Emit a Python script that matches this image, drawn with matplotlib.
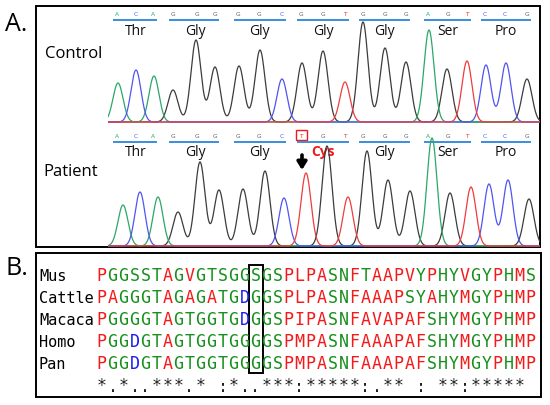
import numpy as np
import matplotlib
matplotlib.use("Agg")
import matplotlib.pyplot as plt
from matplotlib.patches import Rectangle

W, H = 550, 405

# ---- panel A: sequencing traces ----
bases_ctrl = "ACAGGGGGCGGTGGGAGTCCG"
bases_pat = "ACAGGGGGCTGTGGGAGTCCG"
# base-call positions (scan units, shared by both reads)
call_pos = [117, 136, 153, 173, 197, 215, 238, 259, 282, 301, 323,
            345, 363, 385, 406, 428, 448, 467, 485, 505, 527]
# peak positions / heights
ctrl_peak_pos = [118, 136, 154, 173, 196, 215, 239, 260, 282, 302, 323,
                 345, 363, 385, 406, 429, 447, 467, 486, 506, 527]
ctrl_peak_h = [39, 52, 46, 32, 82, 55, 56, 72, 43, 59, 71,
               40, 100, 74, 60, 92, 53, 61, 57, 59, 43]
pat_peak_pos = [123, 140, 158, 178, 200, 219, 243, 265, 284, 306, 327,
                348, 367, 388, 410, 432, 450, 471, 489, 508, 529]
pat_peak_h = [41, 54, 49, 34, 84, 56, 57, 75, 48, 73, 100,
              49, 95, 66, 55, 108, 53, 59, 62, 66, 47]
codons_ctrl = ["Thr", "Gly", "Gly", "Gly", "Gly", "Ser", "Pro"]
codons_pat = ["Thr", "Gly", "Gly", "Cys", "Gly", "Ser", "Pro"]

# ---- panel B: alignment ----
species = ["Mus", "Cattle", "Macaca", "Homo", "Pan"]
seqs = [
    "PGGSSTAGVGTSGGSGSPLPASNFTAAPVYPHYVGYPHMS",
    "PAGGGTAGAGATGDGGSPLPASNFAAAPSYAHYMGYPHMP",
    "PGGGGTAGTGGTGDGGSPIPASNFAVAPAFSHYMGYPHMP",
    "PGGDGTAGTGGTGGGGSPMPASNFAAAPAFSHYMGYPHMP",
    "PGGDGTAGTGGTGGGGSPMPASNFAAAPAFSHYMGYPHMP",
]
consensus = "*.*..***.* :*..***:*****:.** : **:***** "
boxed_col = 14

trace_colors = {"A": "#2aa866", "C": "#4f55f0", "G": "#3c3c3c", "T": "#f03c3c"}
call_colors = {"A": "#1fae5e", "C": "#4a60f5", "G": "#606060", "T": "#e33030"}
clustal = {}
for aa in "AVFPMILW":
    clustal[aa] = "#f41a1a"
for aa in "DE":
    clustal[aa] = "#1c1cf0"
for aa in "RK":
    clustal[aa] = "#d01cd0"
for aa in "STYHCNGQ":
    clustal[aa] = "#16901c"

LABEL_FONT = ["Open Sans", "DejaVu Sans"]
MONO = "DejaVu Sans Mono"

fig = plt.figure(figsize=(W / 100, H / 100), dpi=100)
page = fig.add_axes([0, 0, 1, 1])
page.set_xlim(0, W)
page.set_ylim(H, 0)
page.axis("off")


def px_axes(x0, y0, x1, y1):
    a = fig.add_axes([x0 / W, 1 - y1 / H, (x1 - x0) / W, (y1 - y0) / H])
    a.set_xlim(x0, x1)
    a.set_ylim(-1, y1 - y0 - 1)
    a.axis("off")
    a.patch.set_visible(False)
    return a


def draw_trace(ax, bases, pos, heights, sigma=5.0):
    x = np.linspace(ax.get_xlim()[0], ax.get_xlim()[1], 3000)
    for b in "GACT":
        y = np.zeros_like(x)
        for base, p, h in zip(bases, pos, heights):
            if base == b:
                y += h * np.exp(-(x - p) ** 2 / (2 * sigma ** 2))
        ax.plot(x, y, color=trace_colors[b], lw=0.9)


def draw_calls(bases, codons, y_letter, y_line, y_label, cys_red=False):
    for b, p in zip(bases, call_pos):
        page.text(p, y_letter, b, color=call_colors[b], fontsize=4.2,
                  ha="center", va="center", family="DejaVu Sans")
    for i, name in enumerate(codons):
        trip = call_pos[3 * i:3 * i + 3]
        page.plot([trip[0] - 4, trip[-1] + 4], [y_line, y_line],
                  color="#3a8ee0", lw=1.4, solid_capstyle="butt")
        if cys_red and name == "Cys":
            page.text(np.mean(trip), y_label, name, color="#f01818",
                      fontsize=10, fontweight="bold", ha="center",
                      va="baseline", family=LABEL_FONT)
        else:
            page.text(np.mean(trip), y_label, name, color="#111111",
                      fontsize=10, ha="center", va="baseline",
                      family=LABEL_FONT)


# panel frames and letters
page.add_patch(Rectangle((36, 6), 504, 241, fill=False, ec="black", lw=1.4))
page.add_patch(Rectangle((36, 253), 505, 144, fill=False, ec="black", lw=1.4))
page.text(5, 31, "A.", fontsize=18, va="baseline", family=LABEL_FONT)
page.text(5, 275, "B.", fontsize=18, va="baseline", family=LABEL_FONT)

page.text(45, 54, "Control", fontsize=12, va="center", family=LABEL_FONT)
page.text(43, 172, "Patient", fontsize=12, va="center", family=LABEL_FONT)

draw_calls(bases_ctrl, codons_ctrl, 14, 20, 35)
draw_calls(bases_pat, codons_pat, 136, 141.5, 156, cys_red=True)

# mutated base mark and arrow
mut = bases_pat.index("T", 9)
page.add_patch(Rectangle((call_pos[mut] - 5, 130), 11, 10, fill=False,
                         ec="#f01818", lw=1.0))
page.annotate("", xy=(call_pos[mut] + 1, 170), xytext=(call_pos[mut] + 1, 155),
              arrowprops=dict(arrowstyle="-|>,head_length=0.45,head_width=0.28",
                              lw=2.6, color="black", shrinkA=0, shrinkB=0))

ax_ctrl = px_axes(108, 8, 540, 123)
draw_trace(ax_ctrl, bases_ctrl, ctrl_peak_pos, ctrl_peak_h)
ax_pat = px_axes(108, 132, 540, 247)
draw_trace(ax_pat, bases_pat, pat_peak_pos, pat_peak_h)

# panel B alignment
x0 = 101.5
step = 11.0
base_y = 281
row_gap = 22.1
for r, (name, seq) in enumerate(zip(species, seqs)):
    y = base_y + r * row_gap
    page.text(39, y, name, fontsize=11, family=MONO, va="baseline", ha="left")
    for i, aa in enumerate(seq):
        page.text(x0 + i * step, y, aa, fontsize=12, family=MONO,
                  color=clustal.get(aa, "black"), ha="center", va="baseline")
yc = base_y + len(seqs) * row_gap
for i, ch in enumerate(consensus):
    if ch != " ":
        page.text(x0 + i * step, yc, ch, fontsize=12, family=MONO,
                  color="#222222", ha="center", va="baseline")

page.add_patch(Rectangle((x0 + boxed_col * step - 7, 265), 14, 108,
                         fill=False, ec="black", lw=1.4))

fig.savefig("out.png", dpi=100)
